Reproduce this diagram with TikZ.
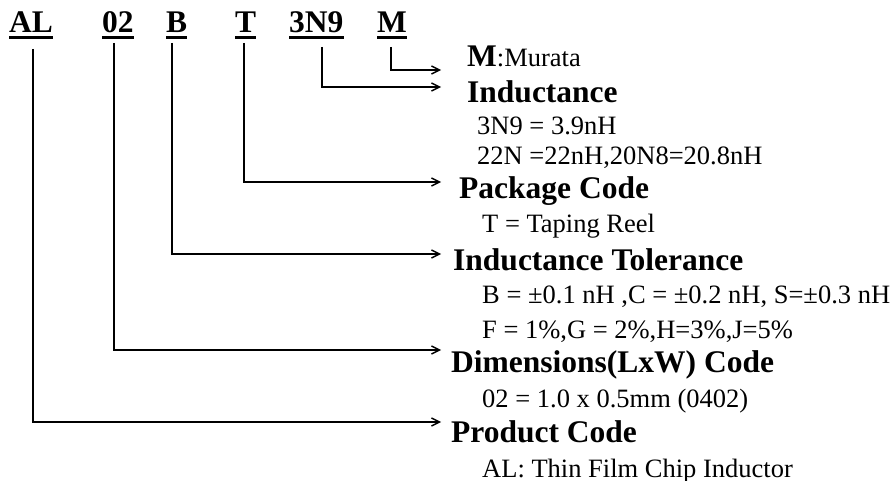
\documentclass[tikz,border=0pt]{standalone}
\usepackage{fontspec}
\setmainfont{Liberation Serif}
\usetikzlibrary{arrows.meta}
\tikzset{
  code/.style={anchor=base west, inner sep=0pt, font=\fontsize{31.5}{36}\selectfont\bfseries},
  head/.style={anchor=base west, inner sep=0pt, font=\fontsize{31.5}{36}\selectfont\bfseries},
  body/.style={anchor=base west, inner sep=0pt, font=\fontsize{26.5}{30}\selectfont},
  uline/.style={line width=2.2pt},
  arr/.style={line width=1.4pt, -{Straight Barb[length=8pt,width=8pt,line width=1.4pt]}}
}
\begin{document}
\begin{tikzpicture}[x=1pt,y=-1pt]
\useasboundingbox (0,0) rectangle (894,481);
% codes
\node[code] (cAL) at (9,33) {AL};
\node[code] (c02) at (102,33) {02};
\node[code] (cB) at (166,33) {B};
\node[code] (cT) at (235,33) {T};
\node[code] (c3N9) at (289,33) {3N9};
\node[code] (cM) at (377,33) {M};
\foreach \n in {cAL,c02,cB,cT,c3N9,cM}{
  \draw[uline] ([yshift=-4.5pt]\n.base west) -- ([yshift=-4.5pt]\n.base east);
}
% labels
\node[body] (lM) at (467,67) {\fontsize{31.5}{36}\selectfont\bfseries M\fontsize{26.5}{30}\selectfont\mdseries:Murata};
\node[head] (lInd) at (467,103) {Inductance};
\node[body] (lInd1) at (477,135) {3N9 = 3.9nH};
\node[body] (lInd2) at (477,165) {22N =22nH,20N8=20.8nH};
\node[head] (lPkg) at (459,199) {Package Code};
\node[body] (lPkg1) at (482,233) {T = Taping Reel};
\node[head] (lTol) at (453,270) {Inductance Tolerance};
\node[body] (lTol1) at (482,303) {B = ±0.1 nH ,C = ±0.2 nH, S=±0.3 nH};
\node[body] (lTol2) at (482,338) {F = 1\%,G = 2\%,H=3\%,J=5\%};
\node[head] (lDim) at (451,372) {Dimensions(LxW) Code};
\node[body] (lDim1) at (482,407) {02 = 1.0 x 0.5mm (0402)};
\node[head] (lProd) at (451,442) {Product Code};
\node[body] (lProd1) at (482,477) {AL: Thin Film Chip Inductor};
% connector coordinates
\coordinate (sM) at (391,47);   \coordinate (eM) at (441,70);
\coordinate (s3N9) at (322,47); \coordinate (e3N9) at (441,87);
\coordinate (sT) at (244,43);   \coordinate (eT) at (441,182);
\coordinate (sB) at (172,43);   \coordinate (eB) at (441,254);
\coordinate (s02) at (114,43);  \coordinate (e02) at (441,350);
\coordinate (sAL) at (33,49);   \coordinate (eAL) at (441,422);
\draw[arr] (sM) |- (eM);
\draw[arr] (s3N9) |- (e3N9);
\draw[arr] (sT) |- (eT);
\draw[arr] (sB) |- (eB);
\draw[arr] (s02) |- (e02);
\draw[arr] (sAL) |- (eAL);
\end{tikzpicture}
\end{document}
